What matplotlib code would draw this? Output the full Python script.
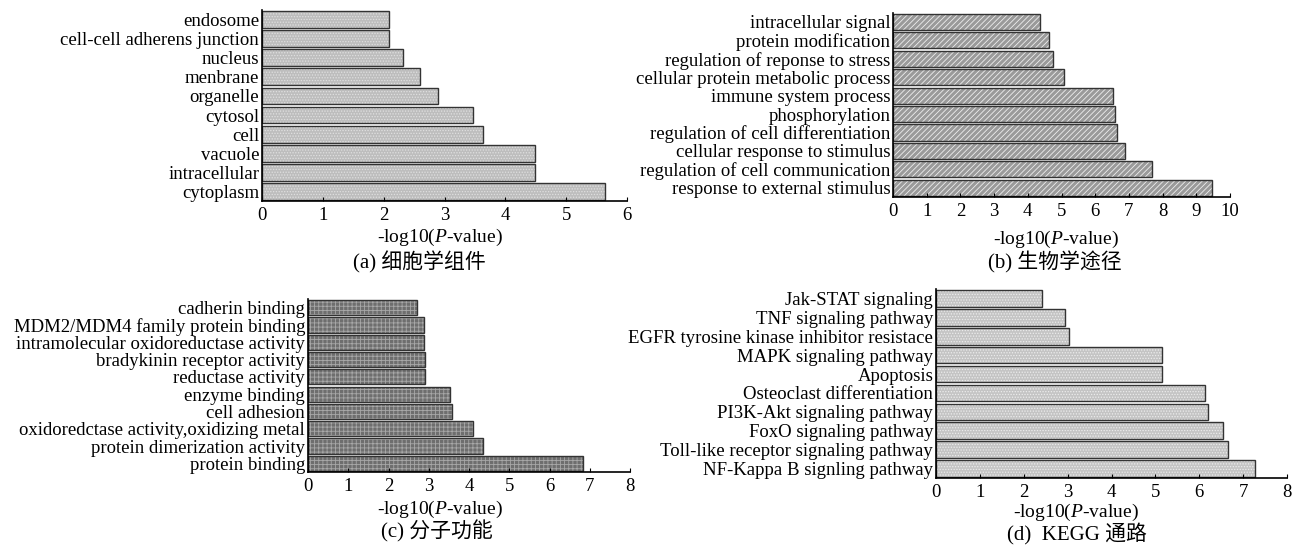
import matplotlib
matplotlib.use("Agg")
import matplotlib.pyplot as plt

plt.rcParams['font.family'] = ['Liberation Serif', 'Noto Sans CJK SC']
plt.rcParams['mathtext.fontset'] = 'custom'
plt.rcParams['mathtext.rm'] = 'Liberation Serif'
plt.rcParams['mathtext.it'] = 'Liberation Serif:italic'
plt.rcParams['hatch.linewidth'] = 0.6

# (a) cellular component
cc_terms = ["endosome", "cell-cell adherens junction", "nucleus", "menbrane", "organelle",
            "cytosol", "cell", "vacuole", "intracellular", "cytoplasm"]
cc_values = [2.08, 2.09, 2.31, 2.60, 2.90, 3.47, 3.64, 4.48, 4.49, 5.64]

# (b) biological process
bp_terms = ["intracellular signal", "protein modification", "regulation of reponse to stress",
            "cellular protein metabolic process", "immune system process", "phosphorylation",
            "regulation of cell differentiation", "cellular response to stimulus",
            "regulation of cell communication", "response to external stimulus"]
bp_values = [4.35, 4.64, 4.74, 5.07, 6.53, 6.58, 6.64, 6.89, 7.68, 9.48]

# (c) molecular function
mf_terms = ["cadherin binding", "MDM2/MDM4 family protein binding",
            "intramolecular oxidoreductase activity", "bradykinin receptor activity",
            "reductase activity", "enzyme binding", "cell adhesion",
            "oxidoredctase activity,oxidizing metal", "protein dimerization activity",
            "protein binding"]
mf_values = [2.71, 2.87, 2.87, 2.91, 2.91, 3.53, 3.58, 4.09, 4.34, 6.82]

# (d) KEGG
kegg_terms = ["Jak-STAT signaling", "TNF signaling pathway",
              "EGFR tyrosine kinase inhibitor resistace", "MAPK signaling pathway",
              "Apoptosis", "Osteoclast differentiation", "PI3K-Akt signaling pathway",
              "FoxO signaling pathway", "Toll-like receptor signaling pathway",
              "NF-Kappa B signling pathway"]
kegg_values = [2.41, 2.93, 3.04, 5.14, 5.15, 6.14, 6.21, 6.54, 6.65, 7.27]

W, H = 1294, 545
fig = plt.figure(figsize=(W / 100, H / 100), dpi=100)


def px(x, y):
    # pixel coords from top-left -> figure fraction
    return x / W, 1 - y / H


def draw_panel(box, terms, values, xmax, face, hatch, hcolor, caption, lab_xy, cap_xy):
    x0, y0, x1, y1 = box
    ax = fig.add_axes([x0 / W, 1 - y1 / H, (x1 - x0) / W, (y1 - y0) / H])
    ypos = list(range(len(terms)))[::-1]
    ax.barh(ypos, values, height=0.88, color=face, edgecolor=hcolor, hatch=hatch, linewidth=0)
    ax.barh(ypos, values, height=0.88, fill=False, edgecolor="#333333", linewidth=1.0)
    ax.set_yticks(ypos)
    ax.set_yticklabels(terms, fontsize=13.5)
    ax.set_ylim(-0.5, len(terms) - 0.5)
    ax.set_xlim(0, xmax)
    ax.set_xticks(range(0, xmax + 1))
    ax.tick_params(axis="y", length=0, pad=2)
    ax.tick_params(axis="x", direction="in", length=3, labelsize=13.5, pad=4)
    for s in ["top", "right"]:
        ax.spines[s].set_visible(False)
    ax.spines["left"].set_linewidth(1.2)
    ax.spines["bottom"].set_linewidth(1.2)
    lx, ly = px(*lab_xy)
    fig.text(lx, ly, "-log10($\\mathit{P}$-value)", ha="center", va="center", fontsize=14)
    cx, cy = px(*cap_xy)
    fig.text(cx, cy, caption, ha="center", va="center", fontsize=15)
    return ax


draw_panel((262, 10, 627, 201), cc_terms, cc_values, 6,
           "#bdbdbd", "......", "#e0e0e0", "(a) 细胞学组件", (440, 237), (419, 262))
draw_panel((893, 12.7, 1230, 197), bp_terms, bp_values, 10,
           "#9a9a9a", "//////", "#eeeeee", "(b) 生物学途径", (1056, 239), (1055, 262))
draw_panel((308, 299, 630, 472), mf_terms, mf_values, 8,
           "#6e6e6e", "++++", "#a8a8a8", "(c) 分子功能", (440, 509), (437, 531))
draw_panel((936, 289, 1287, 478), kegg_terms, kegg_values, 8,
           "#c4c4c4", "......", "#ececec", "(d)  KEGG 通路", (1076, 512), (1077, 534))

fig.savefig("out.png", dpi=100)
